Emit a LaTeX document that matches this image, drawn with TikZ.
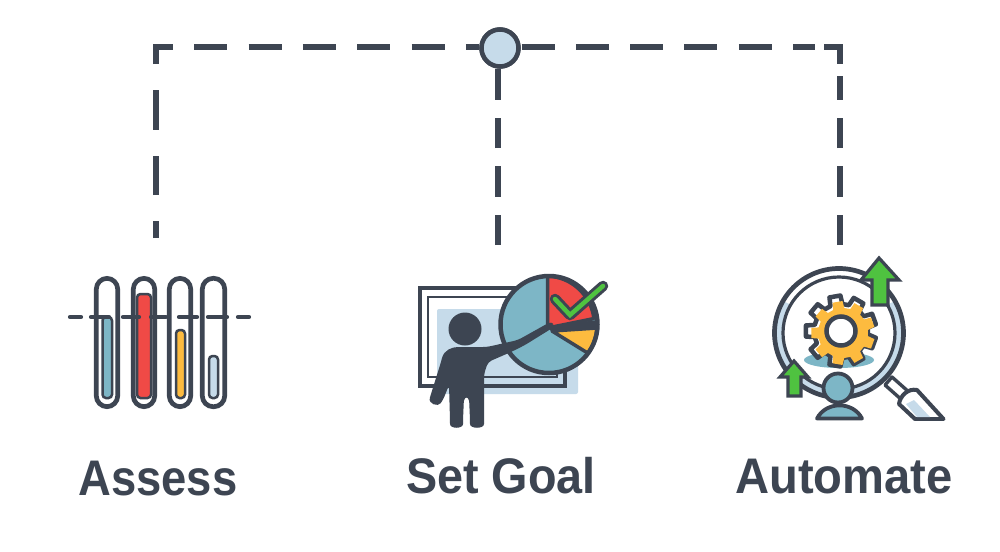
\documentclass[tikz,border=0pt]{standalone}
\usepackage{fontspec}
\setmainfont{Liberation Sans}
\definecolor{ink}{HTML}{3D4552}
\definecolor{teal}{HTML}{7DB6C6}
\definecolor{redf}{HTML}{F04A46}
\definecolor{yel}{HTML}{FDBB3F}
\definecolor{pale}{HTML}{C6DBEA}
\definecolor{grn}{HTML}{4FC240}
\newlength{\pxu}\setlength{\pxu}{0.75pt}
\tikzset{
 lineink/.style={draw=ink,line width=6\pxu},
 dashh/.style={lineink,dash pattern=on 33\pxu off 21.3\pxu},
 dashl/.style={lineink,dash pattern=on 39.5\pxu off 26\pxu},
 dashv/.style={lineink,dash pattern=on 30.5\pxu off 18\pxu},
 hub/.style={circle,draw=ink,fill=pale,line width=4.5\pxu,minimum size=37\pxu,inner sep=0pt},
 lbl/.style={text=ink,font=\bfseries\fontsize{37.5pt}{40pt}\selectfont,inner sep=0pt,anchor=base,transform shape},
 tube/.style={draw=ink,line width=4.7\pxu,rounded corners=10.9\pxu,fill=white},
 bar/.style={draw=ink,line width=2.5\pxu,rounded corners=3.5\pxu},
 lvl/.style={draw=ink,line width=4.2\pxu,line cap=round},
 wedge/.style={draw=ink,line width=3.5\pxu,line join=round},
 up/.style={draw=ink,fill=grn,line width=3.2\pxu,line join=miter},
}
\begin{document}
\begin{tikzpicture}[x=0.75pt,y=-0.75pt]
\useasboundingbox (0,0) rectangle (1000,551);
\fill[white] (0,0) rectangle (1000,551);
% connectors
\coordinate (hc) at (500,48);
\node[hub] (h) at (hc) {};
\coordinate (a) at (156,238);
\coordinate (atop) at (156,44.3);
\coordinate (cl) at (153,47.3);
\coordinate (s) at (498,245);
\coordinate (u) at (840.3,245);
\coordinate (ue) at (840.3,76);
\coordinate (re) at (815,47.3);
\coordinate (c1) at (824,47.3);
\coordinate (c2) at (840.3,47.3);
\coordinate (c3) at (840.3,64);
\draw[dashl,dash phase=22.5\pxu] (a) -- (atop);
\draw[dashh,dash phase=13\pxu] (cl) -- (h.west |- cl);
\draw[dashh,dash phase=53.5\pxu] (h.east |- re) -- (re);
\draw[lineink,line join=miter] (c1) -- (c2) -- (c3);
\draw[dashv] (u) -- (ue);
\draw[dashv] (s) -- (s |- h.south);
\node[hub] at (hc) {};
% Assess
\foreach \l/\r in {94/120,131/157,167/193,200/227}
  \draw[tube] (\l+2.3,278.3) rectangle (\r-2.3,406.7);
\draw[bar,fill=teal] (102.5,317) rectangle (112,398);
\draw[bar,fill=redf] (137,294) rectangle (151,398);
\draw[bar,fill=yel] (176,330) rectangle (185,398);
\draw[bar,fill=pale] (209,356) rectangle (218,398);
\foreach \l/\r in {70/81,91/109,123/139,151/166,179/197,208/227,238/249}
  \draw[lvl] (\l,317) -- (\r,317);
% Set Goal
\fill[pale,rounded corners=2\pxu] (437,309) rectangle (578,394);
\draw[ink,line width=3.8\pxu] (420,288) rectangle (565,386);
\draw[ink,line width=2.6\pxu] (428,297) rectangle (557,377);
\fill[teal] (549,324.5) circle (48.5);
\draw[wedge,fill=redf] (547.5,328) -- (547.5,276) arc (-88:-7:48.5) -- cycle;
\draw[wedge,fill=yel] (552,331) -- (597,328) arc (4:36:48.5) -- cycle;
\fill[ink] (547,326) -- (598,320) -- (598,329) -- (552,332) -- cycle;
\draw[ink,line width=4.5\pxu] (549,324.5) circle (48.5);
\draw[ink,line width=3\pxu] (547.5,276) -- (547.5,328);
\fill[ink] (465,329) circle (16.5);
\fill[ink,rounded corners=4\pxu] (552,321) -- (554,327) -- (525,345) -- (511,352) -- (488,362) -- (484,374) -- (484,420) .. controls (484,429) and (470,429) .. (470,420) -- (469,397) -- (464,397) -- (463,420) .. controls (463,429) and (450,429) .. (450,420) -- (449,385) -- (443,400) .. controls (438,407) and (428,404) .. (431,394) -- (441,362) .. controls (444,350) and (452,347) .. (462,347) -- (487,347) -- (518,340) -- cycle;
\draw[ink,line width=10.5\pxu,line cap=round,line join=round] (555,299) -- (570,315) -- (603,286);
\draw[grn,line width=4.5\pxu,line cap=round,line join=miter] (555,299) -- (570,315) -- (603,286);
% Automate
\fill[teal] (839,360) ellipse (35 and 8);
\draw[pale,line width=8\pxu] (839,333) ++(-30:61) arc (-30:210:61);
\draw[ink,line width=4.7\pxu] (839,333) circle (64.5);
\draw[ink,line width=3.2\pxu] (839,333) circle (56);
\draw[ink,line width=3.4\pxu,line join=round,fill=white] (892,377) -- (910,393) -- (903,401) -- (885,385) -- cycle;
\draw[ink,line width=4\pxu,line join=round,fill=white] (917,390) -- (943.5,419) -- (915,419) -- (899,404) .. controls (900,396) and (908,388) .. (917,390) -- cycle;
\fill[pale] (906,404) -- (914,400) -- (930,417) -- (917,417) -- cycle;
\fill[white] (880,420.5) rectangle (950,426);
\draw[ink,line width=4.5\pxu,line join=round,fill=white]
  \foreach \i in {0,...,8}{
    \ifnum\i=0 ([shift={(841,331)}]{\i*40+7}:27) \else -- ([shift={(841,331)}]{\i*40+7}:27) \fi
    -- ([shift={(841,331)}]{\i*40+11}:35.5) -- ([shift={(841,331)}]{\i*40+29}:35.5) -- ([shift={(841,331)}]{\i*40+33}:27)
  } -- cycle;
\fill[yel]
  \foreach \i in {0,...,8}{
    \ifnum\i=0 ([shift={(843,333)}]{\i*40+7}:25) \else -- ([shift={(843,333)}]{\i*40+7}:25) \fi
    -- ([shift={(843,333)}]{\i*40+11}:32) -- ([shift={(843,333)}]{\i*40+29}:32) -- ([shift={(843,333)}]{\i*40+33}:25)
  } -- cycle;
\draw[ink,line width=4.5\pxu,fill=white] (841,331) circle (14.5);
\filldraw[fill=teal,draw=ink,line width=3.8\pxu] (838,388) circle (14.5);
\filldraw[fill=teal,draw=ink,line width=3.8\pxu,line join=round] (817,418.5) .. controls (826,401) and (853,401) .. (862,418.5) -- cycle;
\draw[up] (879,258) -- (899,280) -- (888,280) -- (888,305) -- (872,305) -- (872,280) -- (861,280) -- cycle;
\draw[up] (794,361) -- (808,377) -- (801,377) -- (801,396) -- (788,396) -- (788,377) -- (780,377) -- cycle;
% labels
\node[lbl,xscale=.908] (t1) at (158,495.5) {Assess};
\node[lbl,xscale=.935] (t2) at (501,493) {Set Goal};
\node[lbl,xscale=.943] (t3) at (844,493) {Automate};
\end{tikzpicture}
\end{document}
